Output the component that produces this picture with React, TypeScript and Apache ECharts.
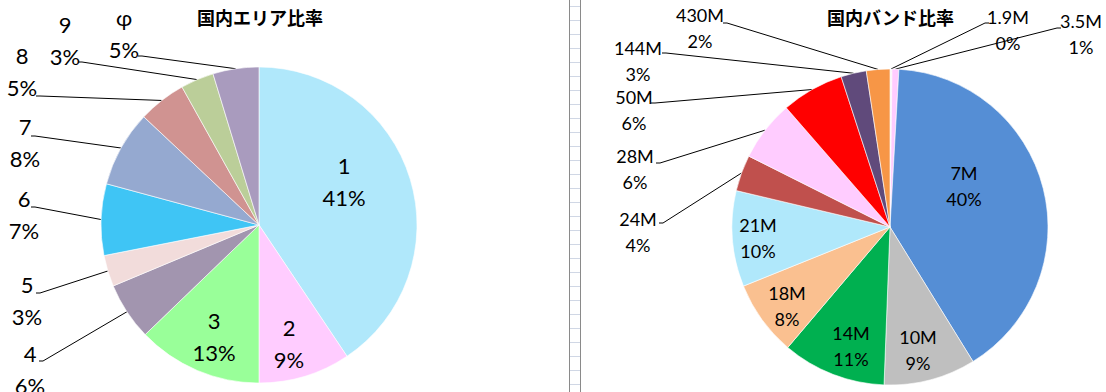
import React, { useEffect, useRef } from 'react';
import * as echarts from 'echarts';

// ---- Data: 国内エリア比率 ----
const areaNames = ['1', '2', '3', '4', '5', '6', '7', '8', '9', 'φ'];
const areaValues = [40.6, 9.4, 12.8, 5.9, 3.2, 7.3, 7.8, 4.9, 3.4, 4.7];
const areaColors = ['#B0E8FB', '#FFCCFF', '#99FF99', '#A295AF', '#F2DCDB', '#3FC5F5', '#95A9D0', '#D09391', '#BBCE99', '#A99BBE'];
const areaInside = [true, true, true, false, false, false, false, false, false, false];

// ---- Data: 国内バンド比率 ----
const bandNames = ['1.9M', '3.5M', '7M', '10M', '14M', '18M', '21M', '24M', '28M', '50M', '144M', '430M'];
const bandValues = [0.2, 0.7, 40.3, 9.4, 10.6, 7.7, 9.8, 3.7, 6.2, 6.4, 2.6, 2.4];
const bandColors = ['#F4F4F4', '#FFCCFF', '#558ED5', '#BFBFBF', '#00B050', '#FAC090', '#B0E8FB', '#C0504D', '#FFCCFF', '#FF0000', '#604A7B', '#F79646'];
const bandInside = [false, false, true, true, true, true, true, false, false, false, false, false];

// ---- Layout (label block centre, leader-line end) ----
const areaLabelPos: number[][] = [
  [344, 181], [289, 343], [214, 336],
  [30, 369, 43, 361], [27, 300, 40, 293], [24, 214, 35, 207], [25, 142, 35, 136],
  [22, 71, 40, 96], [65, 40, 82, 62], [124, 33, 142, 56],
];
const bandLabelPos: number[][] = [
  [1008, 30, 985, 23], [1081, 34, 1057, 28], [964, 186], [918, 350], [851, 346], [787, 306], [758, 238],
  [638, 232, 663, 223], [635, 169, 660, 163], [634, 110, 655, 103], [638, 61, 666, 53], [700, 28, 727, 23],
];

function makeLayout(pos: number[][]) {
  return (p: any) => {
    const a = pos[p.dataIndex];
    if (!a) return {};
    const res: any = { x: a[0], y: a[1], align: 'center', verticalAlign: 'middle' };
    if (a.length > 2 && p.labelLinePoints && p.labelLinePoints.length) {
      const edge = p.labelLinePoints[0];
      const dir = a[0] < a[2] ? -1 : 1;
      res.labelLinePoints = [edge, [a[2], a[3]], [a[2] + dir * 4, a[3]]];
    }
    return res;
  };
}

function makeData(names: string[], values: number[], colors: string[], inside: boolean[]) {
  return names.map((n, i) => ({
    name: n,
    value: values[i],
    itemStyle: { color: colors[i] },
    label: { position: inside[i] ? 'inside' : 'outside' },
    labelLine: { show: !inside[i] },
  }));
}

const FONT = 'Lato, "Liberation Sans", sans-serif';

export default function App() {
  const ref = useRef<HTMLDivElement>(null);
  useEffect(() => {
    if (!ref.current) return;
    const chart = echarts.init(ref.current, undefined, { renderer: 'svg' });
    const grid: any[] = [];
    for (let y = 6; y < 392; y += 14) {
      grid.push({ type: 'line', silent: true, shape: { x1: 570, y1: y + 0.5, x2: 580, y2: y + 0.5 }, style: { stroke: '#D0D7E5', lineWidth: 1 } });
    }
    grid.push({ type: 'line', silent: true, shape: { x1: 569.5, y1: 0, x2: 569.5, y2: 392 }, style: { stroke: '#8A8A8A', lineWidth: 1 } });
    grid.push({ type: 'line', silent: true, shape: { x1: 580.5, y1: 0, x2: 580.5, y2: 392 }, style: { stroke: '#8A8A8A', lineWidth: 1 } });

    const titleStyle = { fontFamily: '"Noto Sans CJK JP", sans-serif', fontSize: 18, fontWeight: 'bold' as const, color: '#000' };
    chart.setOption({
      animation: false,
      backgroundColor: '#fff',
      title: [
        { text: '国内エリア比率', left: 197, top: 8, padding: 0, textStyle: titleStyle },
        { text: '国内バンド比率', left: 827, top: 8, padding: 0, textStyle: titleStyle },
      ],
      graphic: grid,
      series: [
        {
          type: 'pie',
          center: [259, 225],
          radius: 158,
          startAngle: 90,
          clockwise: true,
          avoidLabelOverlap: false,
          percentPrecision: 0,
          itemStyle: { borderColor: '#fff', borderWidth: 0.6 },
          label: { formatter: '{b}\n{d}%', color: '#000', fontFamily: FONT, fontSize: 22, lineHeight: 32 },
          labelLine: { lineStyle: { color: '#000', width: 1 }, length: 10, length2: 10 },
          labelLayout: makeLayout(areaLabelPos),
          emphasis: { disabled: true },
          data: makeData(areaNames, areaValues, areaColors, areaInside),
        },
        {
          type: 'pie',
          center: [890, 227],
          radius: 158,
          startAngle: 90,
          clockwise: true,
          avoidLabelOverlap: false,
          percentPrecision: 0,
          itemStyle: { borderColor: '#fff', borderWidth: 0.6 },
          label: { formatter: '{b}\n{d}%', color: '#000', fontFamily: FONT, fontSize: 18, lineHeight: 26 },
          labelLine: { lineStyle: { color: '#000', width: 1 }, length: 10, length2: 10 },
          labelLayout: makeLayout(bandLabelPos),
          emphasis: { disabled: true },
          data: makeData(bandNames, bandValues, bandColors, bandInside),
        },
      ],
    });
    return () => chart.dispose();
  }, []);
  return <div ref={ref} style={{ position: 'absolute', left: 0, top: 0, width: 1106, height: 392 }} />;
}
